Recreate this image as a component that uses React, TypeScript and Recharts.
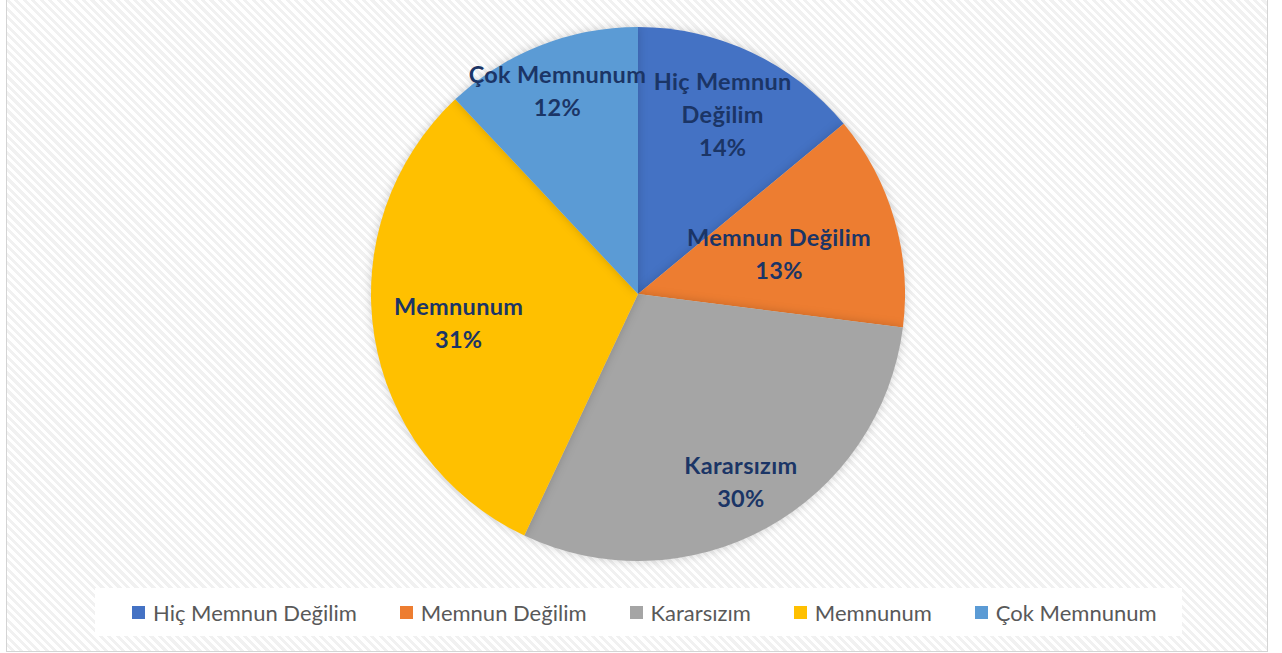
import { PieChart, Pie, Cell, Legend } from "recharts";

const categories = ["Hiç Memnun Değilim", "Memnun Değilim", "Kararsızım", "Memnunum", "Çok Memnunum"];
const shares = [14, 13, 30, 31, 12];
const colors = ["#4472C4", "#ED7D31", "#A5A5A5", "#FFC000", "#5B9BD5"];

// how far out (fraction of radius) each data label sits, and how its name wraps
const labelRadius = [0.745, 0.55, 0.8, 0.68, 0.82];
const labelLines = [["Hiç Memnun", "Değilim"], ["Memnun Değilim"], ["Kararsızım"], ["Memnunum"], ["Çok Memnunum"]];

const data = categories.map((name, i) => ({ name, value: shares[i] }));

const RAD = Math.PI / 180;
const FONT = "Lato, 'Open Sans', sans-serif";

function SliceLabel(props: any) {
  const { cx, cy, midAngle, outerRadius, index, percent } = props;
  const r = outerRadius * labelRadius[index];
  const x = cx + r * Math.cos(-midAngle * RAD);
  const y = cy + r * Math.sin(-midAngle * RAD);
  const lines = [...labelLines[index], `${Math.round(percent * 100)}%`];
  const lh = 33;
  const top = y - ((lines.length - 1) * lh) / 2;
  return (
    <text x={x} y={top} textAnchor="middle" dominantBaseline="central"
      fill="#1B3566" fontFamily={FONT} fontWeight={700} fontSize={23.5} letterSpacing={0.3}>
      {lines.map((l, i) => (
        <tspan key={i} x={x} y={top + i * lh}>{l}</tspan>
      ))}
    </text>
  );
}

function LegendBox() {
  return (
    <div style={{
      display: "flex", justifyContent: "flex-start", alignItems: "center", gap: 43,
      paddingLeft: 37, boxSizing: "border-box",
      background: "#fff", height: 48, fontFamily: FONT, fontSize: 22, color: "#595959",
    }}>
      {categories.map((c, i) => (
        <div key={c} style={{ display: "flex", alignItems: "center" }}>
          <span style={{ width: 13, height: 13, background: colors[i], marginRight: 8, display: "inline-block" }} />
          <span>{c}</span>
        </div>
      ))}
    </div>
  );
}

export default function App() {
  return (
    <div style={{ position: "relative", width: 1282, height: 653, overflow: "hidden", background: "#fff" }}>
      <style>{`body{margin:0} .recharts-pie-sector{filter: drop-shadow(0 0 5px rgba(0,0,0,0.18));}`}</style>
      <div style={{
        position: "absolute", left: 6, top: -2, width: 1260, height: 652,
        border: "1.5px solid #d4d4d4",
        background: "repeating-linear-gradient(45deg, #ffffff 0px, #ffffff 3px, #f1f1f1 3px, #f1f1f1 6px)",
      }} />
      <div style={{ position: "absolute", left: 0, top: 0 }}>
        <PieChart width={1282} height={653} margin={{ top: 0, right: 0, bottom: 0, left: 0 }}>
          <Pie data={data} dataKey="value" nameKey="name" cx={638} cy={294} outerRadius={267}
            startAngle={90} endAngle={-270} stroke="none" label={SliceLabel} labelLine={false}
            isAnimationActive={false}>
            {data.map((d, i) => <Cell key={d.name} fill={colors[i]} />)}
          </Pie>
          <Legend content={<LegendBox />}
            wrapperStyle={{ left: 95, top: 588, width: 1087, height: 48 }} />
        </PieChart>
      </div>
    </div>
  );
}
